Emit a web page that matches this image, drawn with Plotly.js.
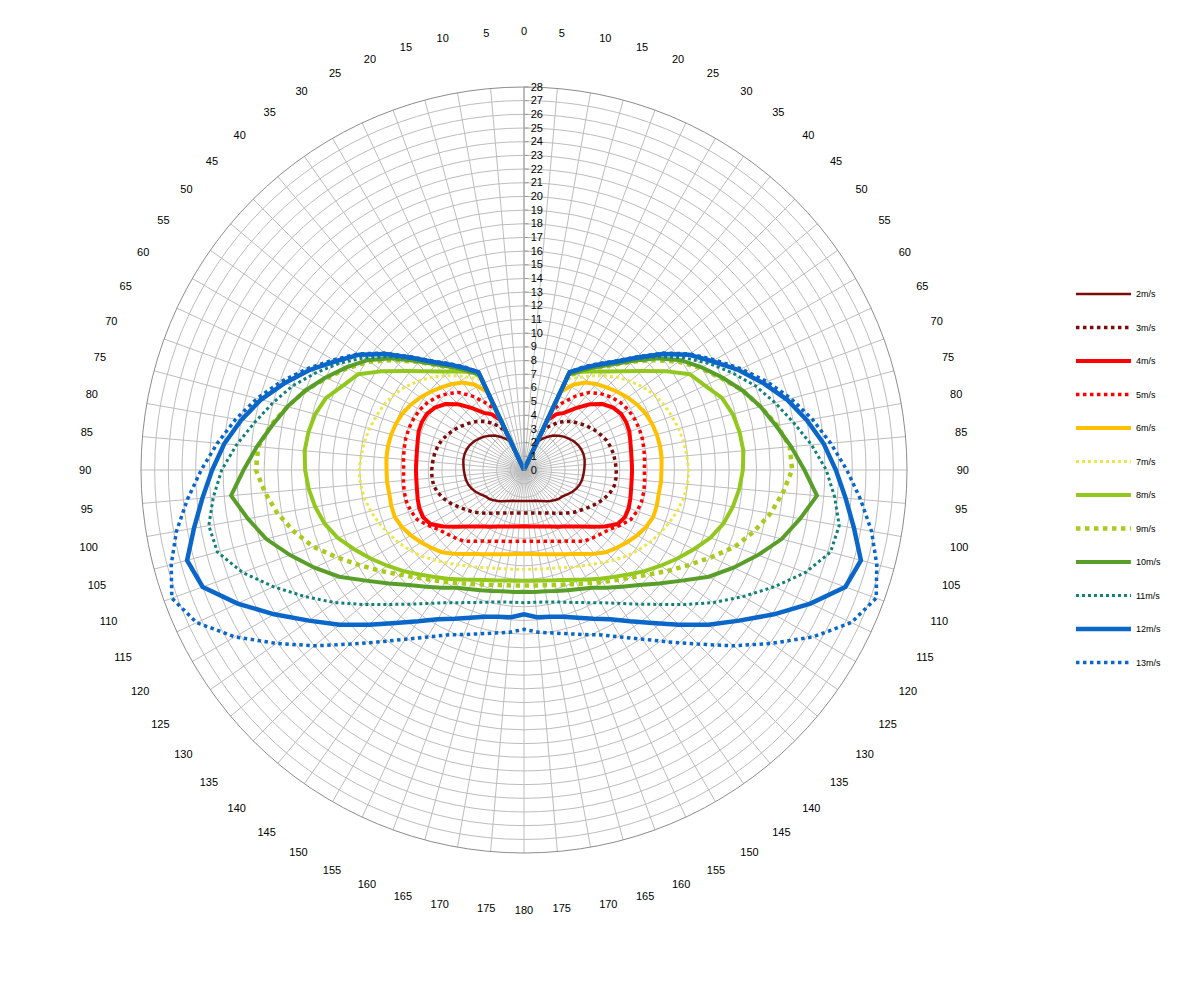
<!DOCTYPE html>
<html><head><meta charset="utf-8">
<script src="https://cdn.plot.ly/plotly-3.0.1.min.js"></script>
<style>html,body{margin:0;padding:0;background:#fff;} #chart{width:1186px;height:984px;}</style>
</head><body><div id="chart"></div>
<script>
// Angle (degrees, clockwise from top)
const theta = [0,5,10,15,20,25,30,35,40,45,50,55,60,65,70,75,80,85,90,95,100,105,110,115,120,125,130,135,140,145,150,155,160,165,170,175,180,
  185,190,195,200,205,210,215,220,225,230,235,240,245,250,255,260,265,270,275,280,285,290,295,300,305,310,315,320,325,330,335,340,345,350,355,360];

const angleTickVals = [0,5,10,15,20,25,30,35,40,45,50,55,60,65,70,75,80,85,90,95,100,105,110,115,120,125,130,135,140,145,150,155,160,165,170,175,
  180,185,190,195,200,205,210,215,220,225,230,235,240,245,250,255,260,265,270,275,280,285,290,295,300,305,310,315,320,325,330,335,340,345,350,355];
const angleTickText = ['0','5','10','15','20','25','30','35','40','45','50','55','60','65','70','75','80','85','90','95','100','105','110','115','120','125','130','135','140','145','150','155','160','165','170','175',
  '180','175','170','165','160','155','150','145','140','135','130','125','120','115','110','105','100','95','90','85','80','75','70','65','60','55','50','45','40','35','30','25','20','15','10','5'];

const seriesNames = ['2m/s','3m/s','4m/s','5m/s','6m/s','7m/s','8m/s','9m/s','10m/s','11m/s','12m/s','13m/s'];

const r2 = [0,0,0,0,0,2.3,2.6,2.95,3.3,3.55,3.8,4.0,4.2,4.35,4.45,4.5,4.5,4.45,4.4,4.35,4.3,4.2,4.05,3.85,3.6,3.4,3.3,3.12,2.95,2.78,2.62,2.5,2.4,2.34,2.3,2.27,2.26,
  2.27,2.3,2.34,2.4,2.5,2.62,2.78,2.95,3.12,3.3,3.4,3.6,3.85,4.05,4.2,4.3,4.35,4.4,4.45,4.5,4.5,4.45,4.35,4.2,4.0,3.8,3.55,3.3,2.95,2.6,2.3,0,0,0,0,0];
const r3 = [0,0,0,0,0,3.1,3.7,4.2,4.65,5.0,5.3,5.6,5.9,6.15,6.4,6.55,6.65,6.7,6.75,6.75,6.7,6.5,6.2,5.85,5.45,5.1,4.8,4.45,4.12,3.85,3.63,3.47,3.34,3.25,3.19,3.15,3.14,
  3.15,3.19,3.25,3.34,3.47,3.63,3.85,4.12,4.45,4.8,5.1,5.45,5.85,6.2,6.5,6.7,6.75,6.75,6.7,6.65,6.55,6.4,6.15,5.9,5.6,5.3,5.0,4.65,4.2,3.7,3.1,0,0,0,0,0];
const r4 = [0,0,0,0,0,4.0,4.7,5.1,5.9,6.8,7.5,7.95,8.2,8.25,8.2,8.05,7.95,7.9,7.9,7.9,7.95,8.05,8.15,8.15,7.9,7.2,6.45,5.85,5.4,5.05,4.8,4.55,4.4,4.28,4.2,4.15,4.12,
  4.15,4.2,4.28,4.4,4.55,4.8,5.05,5.4,5.85,6.45,7.2,7.9,8.15,8.15,8.05,7.95,7.9,7.9,7.9,7.95,8.05,8.2,8.25,8.2,7.95,7.5,6.8,5.9,5.1,4.7,4.0,0,0,0,0,0];
const r5 = [0,0,0,0,0,4.8,5.7,6.6,7.4,7.9,8.3,8.6,8.8,8.9,8.95,8.95,8.9,8.85,8.8,8.85,8.9,8.9,8.8,8.6,8.1,7.6,7.3,7.05,6.8,6.36,6.0,5.75,5.55,5.4,5.3,5.23,5.21,
  5.23,5.3,5.4,5.55,5.75,6.0,6.36,6.8,7.05,7.3,7.6,8.1,8.6,8.8,8.9,8.9,8.85,8.8,8.85,8.9,8.95,8.95,8.9,8.8,8.6,8.3,7.9,7.4,6.6,5.7,4.8,0,0,0,0,0];
const r6 = [0,0,0,0,0,6.3,7.2,7.8,8.2,8.55,8.9,9.25,9.55,9.8,9.95,10.05,10.1,10.1,10.05,10.05,10.0,10.05,10.05,9.85,9.55,9.2,8.85,8.5,8.0,7.5,7.1,6.8,6.55,6.38,6.25,6.17,6.14,
  6.17,6.25,6.38,6.55,6.8,7.1,7.5,8.0,8.5,8.85,9.2,9.55,9.85,10.05,10.05,10.0,10.05,10.05,10.1,10.1,10.05,9.95,9.8,9.55,9.25,8.9,8.55,8.2,7.8,7.2,6.3,0,0,0,0,0];
const r7 = [0,0,0,0,0,7.3,7.8,8.4,9.0,9.6,10.1,10.6,11.0,11.3,11.5,11.7,11.85,11.95,12.05,12.0,11.85,11.6,11.3,10.95,10.6,10.2,9.8,9.3,8.85,8.45,8.1,7.85,7.6,7.45,7.35,7.28,7.26,
  7.28,7.35,7.45,7.6,7.85,8.1,8.45,8.85,9.3,9.8,10.2,10.6,10.95,11.3,11.6,11.85,12.0,12.05,11.95,11.85,11.7,11.5,11.3,11.0,10.6,10.1,9.6,9.0,8.4,7.8,7.3,0,0,0,0,0];
const r8 = [0,0,0,0,0,7.8,8.3,8.8,9.4,10.2,11.25,12.6,14.0,14.6,15.4,15.8,16.0,16.1,16.0,15.8,15.5,15.1,14.5,13.7,12.95,12.2,11.5,10.8,10.2,9.7,9.25,8.85,8.55,8.35,8.2,8.12,8.1,
  8.12,8.2,8.35,8.55,8.85,9.25,9.7,10.2,10.8,11.5,12.2,12.95,13.7,14.5,15.1,15.5,15.8,16.0,16.1,16.0,15.8,15.4,14.6,14.0,12.6,11.25,10.2,9.4,8.8,8.3,7.8,0,0,0,0,0];
const r9 = [0,0,0,0,0,7.6,8.3,9.1,10.0,11.2,12.5,13.8,14.9,15.9,17.0,17.9,18.8,19.5,19.6,19.0,18.3,17.4,16.4,15.1,13.9,12.85,11.9,11.1,10.5,10.0,9.55,9.2,8.9,8.7,8.55,8.48,8.45,
  8.48,8.55,8.7,8.9,9.2,9.55,10.0,10.5,11.1,11.9,12.85,13.9,15.1,16.4,17.4,18.3,19.0,19.6,19.5,18.8,17.9,17.0,15.9,14.9,13.8,12.5,11.2,10.0,9.1,8.3,7.6,0,0,0,0,0];
const r10 = [0,0,0,0,0,7.7,8.4,9.2,10.1,11.3,12.7,14.0,15.0,16.0,17.0,17.9,18.7,19.6,20.5,21.5,20.5,19.5,18.2,16.9,15.6,14.1,12.9,11.9,11.15,10.5,9.95,9.6,9.35,9.15,9.0,8.95,8.9,
  8.95,9.0,9.15,9.35,9.6,9.95,10.5,11.15,11.9,12.9,14.1,15.6,16.9,18.2,19.5,20.5,21.5,20.5,19.6,18.7,17.9,17.0,16.0,15.0,14.0,12.7,11.3,10.1,9.2,8.4,7.7,0,0,0,0,0];
const r11 = [0,0,0,0,0,7.9,8.6,9.4,10.3,11.5,12.9,14.3,15.6,16.8,18.0,19.0,20.0,21.1,22.1,22.8,23.4,23.2,21.9,20.2,18.5,16.9,15.3,13.9,12.8,11.9,11.2,10.7,10.3,10.0,9.8,9.7,9.7,
  9.7,9.8,10.0,10.3,10.7,11.2,11.9,12.8,13.9,15.3,16.9,18.5,20.2,21.9,23.2,23.4,22.8,22.1,21.1,20.0,19.0,18.0,16.8,15.6,14.3,12.9,11.5,10.3,9.4,8.6,7.9,0,0,0,0,0];
const r12 = [0,0,0,0,0,7.9,8.6,9.4,10.3,11.6,13.2,14.7,15.9,17.3,18.6,19.9,21.0,22.0,22.8,23.6,24.5,25.5,25.0,23.1,21.1,19.2,17.6,16.0,14.6,13.5,12.6,12.0,11.5,11.1,10.9,10.8,10.55,
  10.8,10.9,11.1,11.5,12.0,12.6,13.5,14.6,16.0,17.6,19.2,21.1,23.1,25.0,25.5,24.5,23.6,22.8,22.0,21.0,19.9,18.6,17.3,15.9,14.7,13.2,11.6,10.3,9.4,8.6,7.9,0,0,0,0,0];
const r13 = [0,0,0,0,0,7.9,8.7,9.5,10.4,11.7,13.3,14.8,16.1,17.5,18.9,20.2,21.4,22.5,23.6,24.7,25.8,26.7,27.4,26.4,24.4,22.1,20.0,18.0,16.4,15.1,14.1,13.3,12.8,12.4,12.1,11.9,11.65,
  11.9,12.1,12.4,12.8,13.3,14.1,15.1,16.4,18.0,20.0,22.1,24.4,26.4,27.4,26.7,25.8,24.7,23.6,22.5,21.4,20.2,18.9,17.5,16.1,14.8,13.3,11.7,10.4,9.5,8.7,7.9,0,0,0,0,0];

const seriesValues = [r2,r3,r4,r5,r6,r7,r8,r9,r10,r11,r12,r13];

// styles
const lineColors = ['#7b0c0c','#7b0c0c','#ff0000','#ff0000','#ffc000','#ece64a','#92c81e','#a8cc1c','#5a9e2a','#10807a','#0a66c8','#0a66c8'];
const lineDashes = ['solid','dot','solid','dot','solid','dot','solid','dot','solid','dot','solid','dot'];
const lineWidths = [2.5,3.5,4,3.5,4,3,4,4.5,4,3,4.5,3.5];

const traces = seriesValues.map((vals, i) => ({
  type: 'scatterpolar',
  mode: 'lines',
  name: seriesNames[i],
  legendgroup: 'g' + i,
  r: vals,
  theta: theta,
  line: {color: lineColors[i], width: lineWidths[i], dash: lineDashes[i]},
  hoverinfo: 'name+r+theta'
}));

const R = 383, CX = 524, CY = 470, W = 1186, H = 984;
const layout = {
  width: W, height: H,
  margin: {l: 0, r: 0, t: 0, b: 0},
  paper_bgcolor: '#ffffff',
  font: {family: 'Liberation Sans, Arial, sans-serif', size: 11, color: '#000'},
  showlegend: true,
  legend: {
    x: 0.903, xanchor: 'left', y: 0.716, yanchor: 'top',
    font: {size: 9, color: '#000'},
    tracegroupgap: 14.5,
    itemwidth: 55,
    bgcolor: 'rgba(0,0,0,0)'
  },
  polar: {
    domain: {x: [(CX - R) / W, (CX + R) / W], y: [(H - CY - R) / H, (H - CY + R) / H]},
    bgcolor: '#ffffff',
    angularaxis: {
      rotation: 90,
      direction: 'clockwise',
      tickmode: 'array',
      tickvals: angleTickVals,
      ticktext: angleTickText,
      ticks: 'outside',
      ticklen: 47,
      tickcolor: 'rgba(0,0,0,0)',
      showline: true,
      linecolor: '#8c8c8c',
      linewidth: 1,
      gridcolor: '#bdbdbd',
      gridwidth: 1,
      tickfont: {size: 11, color: '#000'}
    },
    radialaxis: {
      range: [0, 28],
      angle: 90,
      side: 'clockwise',
      tickmode: 'linear',
      tick0: 0,
      dtick: 1,
      showline: true,
      linecolor: '#9a9a9a',
      linewidth: 1,
      ticks: 'outside',
      ticklen: 4,
      tickcolor: '#9a9a9a',
      gridcolor: '#bdbdbd',
      gridwidth: 1,
      tickangle: 90,
      tickfont: {size: 11, color: '#000'}
    }
  }
};

Plotly.newPlot('chart', traces, layout, {staticPlot: true, displayModeBar: false});
</script>
</body></html>
